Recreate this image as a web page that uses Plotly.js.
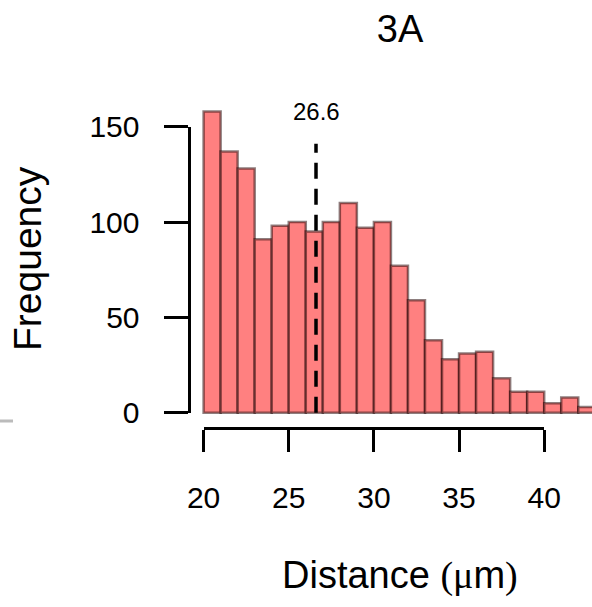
<!DOCTYPE html>
<html>
<head>
<meta charset="utf-8">
<script src="https://cdn.plot.ly/plotly-3.0.1.min.js"></script>
<style>html,body{margin:0;padding:0;background:#fff;}#chart{width:592px;height:607px;}</style>
</head>
<body>
<div id="chart"></div>
<script>
// ---- data ----
var binStarts = [20,21,22,23,24,25,26,27,28,29,30,31,32,33,34,35,36,37,38,39,40,41,42];
var binWidth = 1;
var counts = [158,137,128,91,98,100,95,100,110,97,100,77,59,38,28,31,32,18,11,11,5,8,3];
var meanValue = 26.6;
var meanLineTop = 141;
var meanLabel = "26.6";
var meanLabelY = 158;
var xTickVals = [20,25,30,35,40];
var yTickVals = [0,50,100,150];
var titleText = "3A";
var yTitleText = "Frequency";

var W = 592, H = 607;
function px(v){ return v / W; }
function py(v){ return (H - v) / H; }

var sans = "Liberation Sans, Arial, sans-serif";

var bars = {
  type: "bar",
  x: binStarts,
  y: counts,
  width: binWidth,
  offset: 0,
  marker: {color: "#FF8080", line: {color: "rgba(30,0,0,0.5)", width: 2.5}},
  xaxis: "x", yaxis: "y",
  hoverinfo: "x+y"
};
var meanLine = {
  type: "scatter", mode: "lines",
  x: [meanValue, meanValue],
  y: [0, meanLineTop],
  line: {color: "#000", width: 3.5, dash: "16px,10px"},
  xaxis: "x", yaxis: "y",
  hoverinfo: "skip"
};
var axisHolder = {
  type: "scatter", mode: "none", x: [], y: [],
  xaxis: "x2", yaxis: "y2", hoverinfo: "skip"
};

var layout = {
  width: W, height: H,
  margin: {l: 0, r: 0, t: 0, b: 0, pad: 0},
  paper_bgcolor: "#fff", plot_bgcolor: "rgba(0,0,0,0)",
  showlegend: false,
  font: {family: sans, color: "#000"},
  title: {text: titleText, font: {family: sans, size: 38, color: "#000"},
          x: px(400), xref: "paper", xanchor: "center",
          y: py(29), yref: "container", yanchor: "middle"},
  xaxis: {domain: [0, 1], range: [20 - 203.6/17.03, 20 + 388.4/17.03], visible: false, fixedrange: true},
  yaxis: {domain: [0, 1], range: [-194.3/1.907, 412.7/1.907], visible: false, fixedrange: true},
  xaxis2: {domain: [px(203.6), px(544.2)], range: [20, 40], anchor: "free", position: py(427.5),
           showline: true, linecolor: "#000", linewidth: 3,
           ticks: "outside", ticklen: 22, tickwidth: 3, tickcolor: "#000",
           tickmode: "array", tickvals: xTickVals, ticktext: xTickVals.map(String),
           tickfont: {family: sans, size: 30, color: "#000"}, ticklabelstandoff: 20,
           showgrid: false, zeroline: false, fixedrange: true},
  yaxis2: {domain: [py(412.7), py(126.7)], range: [0, 150], anchor: "free", position: px(188.5),
           showline: true, linecolor: "#000", linewidth: 3,
           ticks: "outside", ticklen: 24, tickwidth: 3, tickcolor: "#000",
           tickmode: "array", tickvals: yTickVals, ticktext: yTickVals.map(String),
           tickfont: {family: sans, size: 30, color: "#000"}, ticklabelstandoff: 18,
           showgrid: false, zeroline: false, fixedrange: true},
  annotations: [
    {xref: "x", yref: "y", x: meanValue, y: meanLabelY, text: meanLabel, showarrow: false,
     font: {family: sans, size: 24, color: "#000"}, xanchor: "center", yanchor: "middle"},
    {xref: "paper", yref: "paper", x: px(27), y: py(259), text: yTitleText, textangle: -90, showarrow: false,
     font: {family: sans, size: 39, color: "#000"}, xanchor: "center", yanchor: "middle"},
    {xref: "paper", yref: "paper", x: px(400), y: py(575),
     text: "Distance <span style=\"font-family:Liberation Serif\">(μ</span>m<span style=\"font-family:Liberation Serif\">)</span>",
     showarrow: false, font: {family: sans, size: 38, color: "#000"}, xanchor: "center", yanchor: "middle"}
  ],
  shapes: [
    {type: "line", xref: "paper", yref: "paper", x0: 0, x1: px(13), y0: py(421), y1: py(421),
     line: {color: "#bbbbbb", width: 3}}
  ]
};

Plotly.newPlot("chart", [bars, meanLine, axisHolder], layout, {displayModeBar: false, staticPlot: true});
</script>
</body>
</html>
